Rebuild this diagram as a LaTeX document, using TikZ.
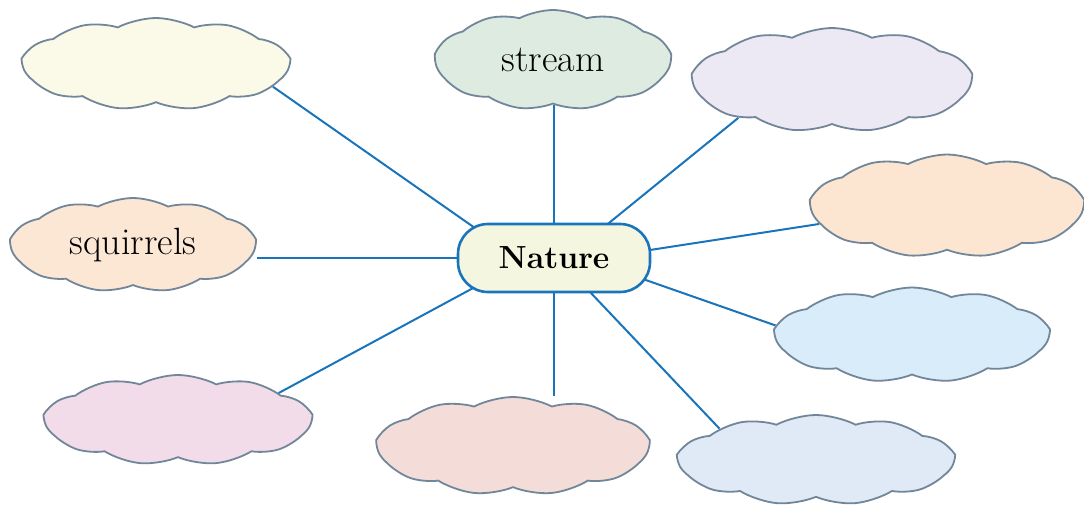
\documentclass[tikz,border=0pt]{standalone}
\usepackage{fontspec}
\usetikzlibrary{shapes.symbols,backgrounds}
\definecolor{linkblue}{HTML}{1A74BB}
\definecolor{cloudedge}{HTML}{72869A}
\definecolor{natfill}{HTML}{F4F6DF}
\definecolor{cyellow}{HTML}{FBF9E8}
\definecolor{cgreen}{HTML}{DDEBE1}
\definecolor{clav}{HTML}{EDE9F4}
\definecolor{corange}{HTML}{FCE5D1}
\definecolor{cblue}{HTML}{D8ECF9}
\definecolor{cgrayblue}{HTML}{E0E9F6}
\definecolor{crose}{HTML}{F4DDD9}
\definecolor{cpink}{HTML}{F3DCEA}
\definecolor{cpeach}{HTML}{FCE6D4}
\tikzset{
  bubble/.style={cloud, cloud puffs=11, cloud puff arc=55, cloud ignores aspect,
    draw=cloudedge, line width=1.8pt, inner sep=0pt,
    font=\fontsize{38}{44}\selectfont},
  hub/.style={rectangle, rounded corners=30pt, draw=linkblue, line width=2.6pt,
    fill=natfill, minimum width=192pt, minimum height=68pt,
    font=\fontsize{32}{38}\selectfont\bfseries},
  link/.style={draw=linkblue, line width=2pt}
}
\begin{document}
\begin{tikzpicture}[x=1pt,y=-1pt]
\useasboundingbox (0,0) rectangle (1084,512);
\node[hub] (N) at (554,258) {Nature};
\node[bubble, fill=cyellow, minimum width=266pt, minimum height=92pt] (c1) at (156,64) {};
\node[bubble, fill=cgreen, minimum width=235pt, minimum height=100pt] (c2) at (553,60) {stream};
\node[bubble, fill=clav, minimum width=278pt, minimum height=104pt] (c3) at (832,80) {};
\node[bubble, fill=corange, minimum width=272pt, minimum height=103pt] (c4) at (947,206) {};
\node[bubble, fill=cblue, minimum width=273pt, minimum height=95pt] (c5) at (912,335) {};
\node[bubble, fill=cgrayblue, minimum width=275pt, minimum height=90pt] (c6) at (816,460) {};
\node[bubble, fill=crose, minimum width=271pt, minimum height=98pt] (c7) at (513,446) {};
\node[bubble, fill=cpink, minimum width=266pt, minimum height=90pt] (c8) at (178,420) {};
\node[bubble, fill=cpeach, minimum width=244pt, minimum height=94pt] (c9) at (133,245) {squirrels};
\begin{scope}[on background layer]
\path[link] ([shift={(-49,-9)}]N.center) -- (c1.-11);
\path[link] (N.center) -- (N.center |- c2.south);
\path[link] ([shift={(34,-18)}]N.center) -- (c3.-158);
\path[link] ([shift={(70,-4)}]N.center) -- (c4.188);
\path[link] ([shift={(66,13)}]N.center) -- (c5.176);
\path[link] ([shift={(18,15)}]N.center) -- (c6.162);
\path[link] (N.center) -- (N.center |- c7.north);
\path[link] ([shift={(-53,15)}]N.center) -- (c8.15);
\path[link] (N.center) -- (N.center -| c9.east);
\end{scope}
\end{tikzpicture}
\end{document}
